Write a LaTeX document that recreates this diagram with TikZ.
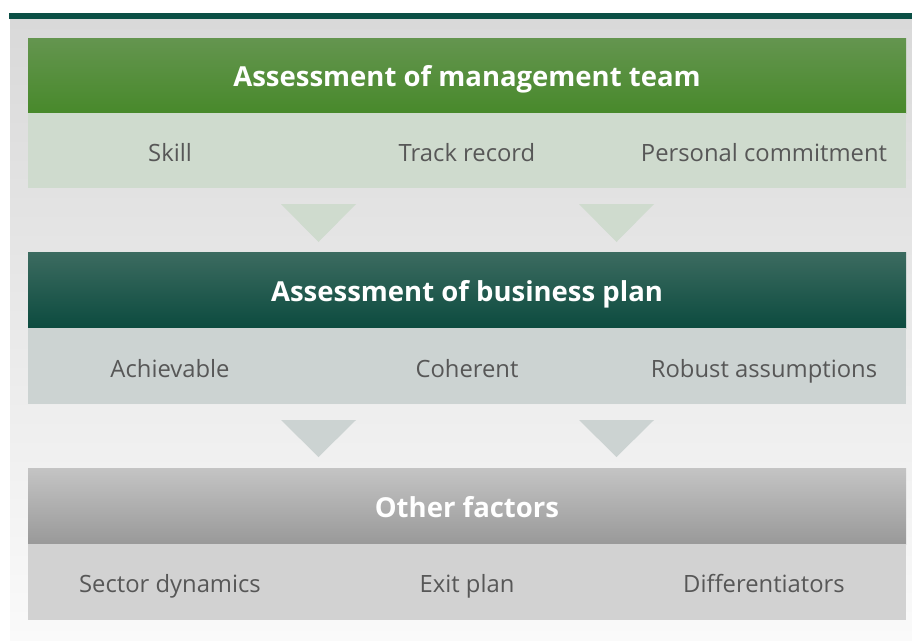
\documentclass[tikz,border=0pt]{standalone}
\usepackage{fontspec}
\setmainfont{Open Sans}
\begin{document}
\begin{tikzpicture}[x=1pt,y=-1pt,
  hdr/.style={font=\bfseries\fontsize{27.5}{32}\selectfont, text=white, anchor=base, inner sep=0pt},
  item/.style={font=\fontsize{23.8}{28}\selectfont, text=textgray, anchor=base, inner sep=0pt}]
\definecolor{textgray}{HTML}{575757}
\definecolor{topline}{HTML}{0B4F45}
\definecolor{greenT}{HTML}{64954F}
\definecolor{greenB}{HTML}{48892B}
\definecolor{greenrow}{HTML}{CFDBCE}
\definecolor{tealT}{HTML}{3C6B60}
\definecolor{tealB}{HTML}{0C4B3F}
\definecolor{tealrow}{HTML}{CCD3D2}
\definecolor{grayT}{HTML}{C4C4C4}
\definecolor{grayB}{HTML}{999999}
\definecolor{grayrow}{HTML}{D2D2D2}
\definecolor{bgT}{HTML}{D9D9D9}
\definecolor{bgB}{HTML}{FAFAFA}
\useasboundingbox (0,0) rectangle (912,640);
\fill[white] (0,0) rectangle (912,640);
% background panel
\shade[top color=bgT, bottom color=bgB] (10,19) rectangle (912,640);
\fill[topline] (9,13) rectangle (912,19);
% band 1
\shade[top color=greenT, bottom color=greenB] (28,38) rectangle (906,113);
\fill[greenrow] (28,113) rectangle (906,188);
\node[hdr] (h1) at (467,86) {Assessment of management team};
\node[item] (a1) at (170,161.5) {Skill};
\node[item] (a2) at (467,161.5) {Track record};
\node[item] (a3) at (764,161.5) {Personal commitment};
\fill[greenrow] (281,204) -- (356,204) -- (318.5,242) -- cycle;
\fill[greenrow] (579,204) -- (654,204) -- (616.5,242) -- cycle;
% band 2
\shade[top color=tealT, bottom color=tealB] (28,252) rectangle (906,328);
\fill[tealrow] (28,328) rectangle (906,404);
\node[hdr] (h2) at (467,301) {Assessment of business plan};
\node[item] (b1) at (170,377.5) {Achievable};
\node[item] (b2) at (467,377.5) {Coherent};
\node[item] (b3) at (764,377.5) {Robust assumptions};
\fill[tealrow] (281,420) -- (356,420) -- (318.5,457) -- cycle;
\fill[tealrow] (579,420) -- (654,420) -- (616.5,457) -- cycle;
% band 3
\shade[top color=grayT, bottom color=grayB] (28,468) rectangle (906,544);
\fill[grayrow] (28,544) rectangle (906,620);
\node[hdr] (h3) at (467,517) {Other factors};
\node[item] (c1) at (170,592.5) {Sector dynamics};
\node[item] (c2) at (467,592.5) {Exit plan};
\node[item] (c3) at (764,592.5) {Differentiators};
\end{tikzpicture}
\end{document}
